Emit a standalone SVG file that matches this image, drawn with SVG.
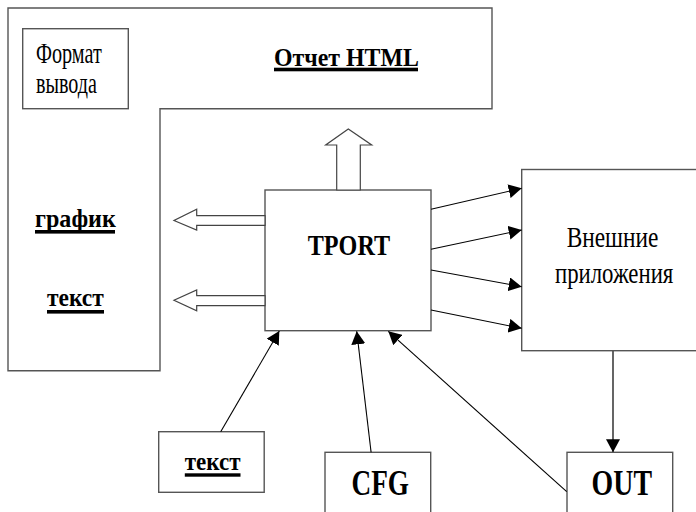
<svg xmlns="http://www.w3.org/2000/svg" width="696" height="512" viewBox="0 0 696 512">
<defs>
<marker id="ah" markerUnits="userSpaceOnUse" markerWidth="13" markerHeight="14" refX="13" refY="7" orient="auto">
<path d="M0,0 L13,7 L0,14 z" fill="#000"/>
</marker>
<style>
.box{fill:#fff;stroke:#555;stroke-width:1.4}
.hol{fill:#fff;stroke:#444;stroke-width:1.2}
.con{stroke:#000;stroke-width:1.1;fill:none;marker-end:url(#ah)}
.vcon{stroke:#555;stroke-width:1.8;fill:none;marker-end:url(#ah)}
.r{font-family:"Liberation Serif","Times New Roman",serif;fill:#000}
.b{font-family:"Liberation Serif","Times New Roman",serif;font-weight:bold;fill:#000}
.ul{fill:#000}
</style>
</defs>
<rect width="696" height="512" fill="#fff"/>
<g id="report">
<path class="box" d="M8,8 H492 V108.7 H160 V370.7 H8 Z"/>
<text class="b" transform="translate(274,65.5) scale(0.8,1)" font-size="25" textLength="181" lengthAdjust="spacingAndGlyphs">Отчет HTML</text>
<rect class="ul" x="274" y="67.7" width="144" height="3.6"/>
<text class="b" transform="translate(35,226.7) scale(0.8,1)" font-size="26" textLength="101" lengthAdjust="spacingAndGlyphs">график</text>
<rect class="ul" x="35" y="230" width="80" height="3.6"/>
<text class="b" transform="translate(47,306) scale(0.8,1)" font-size="26" textLength="71" lengthAdjust="spacingAndGlyphs">текст</text>
<rect class="ul" x="47" y="310" width="57" height="3.6"/>
</g>
<g id="format">
<rect class="box" x="22.7" y="28.7" width="105.6" height="80"/>
<text class="r" transform="translate(36,63) scale(0.7,1)" font-size="29" textLength="94" lengthAdjust="spacingAndGlyphs">Формат</text>
<text class="r" transform="translate(36,93) scale(0.7,1)" font-size="29" textLength="87" lengthAdjust="spacingAndGlyphs">вывода</text>
</g>
<g id="tport">
<rect class="box" x="265" y="190" width="166" height="140.7"/>
<text class="b" transform="translate(307.7,255) scale(0.8,1)" font-size="30" textLength="103" lengthAdjust="spacingAndGlyphs">TPORT</text>
</g>
<g id="ext">
<rect class="box" x="521.7" y="169.5" width="200" height="181.2"/>
<text class="r" transform="translate(566.7,246.7) scale(0.7,1)" font-size="29" textLength="131" lengthAdjust="spacingAndGlyphs">Внешние</text>
<text class="r" transform="translate(555,283) scale(0.7,1)" font-size="29" textLength="169" lengthAdjust="spacingAndGlyphs">приложения</text>
</g>
<g id="text2">
<rect class="box" x="158.7" y="431.7" width="105.5" height="60.6"/>
<text class="b" transform="translate(184.8,470) scale(0.8,1)" font-size="26" textLength="69.6" lengthAdjust="spacingAndGlyphs">текст</text>
<rect class="ul" x="184.8" y="473.3" width="55.7" height="3.4"/>
</g>
<g id="cfg">
<rect class="box" x="325" y="452.3" width="105.7" height="80"/>
<text class="b" transform="translate(351.5,495) scale(0.78,1)" font-size="35" textLength="73.7" lengthAdjust="spacingAndGlyphs">CFG</text>
</g>
<g id="out">
<rect class="box" x="567" y="452.3" width="105.7" height="80"/>
<text class="b" transform="translate(591.6,495) scale(0.78,1)" font-size="35" textLength="77.4" lengthAdjust="spacingAndGlyphs">OUT</text>
</g>
<g id="connectors">
<polygon class="hol" points="336.7,190 336.7,145 325.7,145 348.3,129 371.7,145 360.3,145 360.3,190"/>
<polygon class="hol" points="265,215.7 196.7,215.7 196.7,209.3 174,220.5 196.7,230 196.7,225.3 265,225.3"/>
<polygon class="hol" points="265,295.7 196.7,295.7 196.7,290 174,300.3 196.7,310.7 196.7,305.7 265,305.7"/>
<line class="con" x1="431" y1="209.3" x2="521.7" y2="188.3"/>
<line class="con" x1="431" y1="249.3" x2="521.7" y2="230"/>
<line class="con" x1="431" y1="270" x2="521.7" y2="286.7"/>
<line class="con" x1="431" y1="310" x2="521.7" y2="328.3"/>
<line class="vcon" x1="613" y1="350.7" x2="613" y2="452.3"/>
<line class="con" x1="220.7" y1="431.7" x2="279.3" y2="331"/>
<line class="con" x1="371.1" y1="452.3" x2="356.7" y2="331.3"/>
<line class="con" x1="566.7" y1="491.7" x2="388.3" y2="331.3"/>
</g>
</svg>
